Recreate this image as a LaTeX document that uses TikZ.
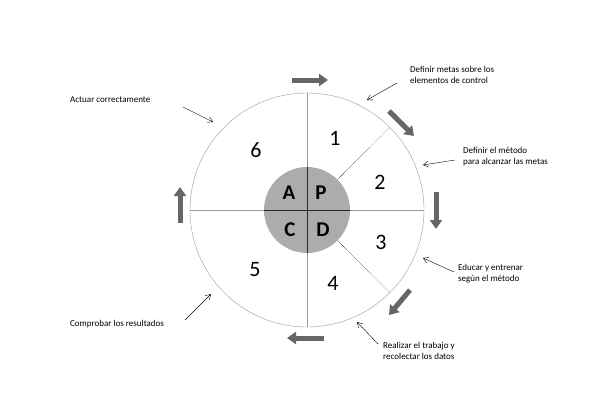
\documentclass[tikz,border=0pt]{standalone}
\usepackage{fontspec}
\setmainfont{Carlito}
\usetikzlibrary{arrows.meta}
\usetikzlibrary{calc}
\tikzset{
  cycle arrow/.style={line width=5pt,gray!80!black,-{Triangle[length=9pt,width=12pt]}},
  hint arrow/.style={thin,-{Straight Barb[length=5pt,width=6pt]}},
  hint/.style={font=\fontsize{9}{11}\selectfont,align=left,inner sep=0pt},
  step num/.style={font=\fontsize{22}{22}\selectfont},
  letter/.style={font=\fontsize{21}{21}\selectfont\bfseries}
}
\begin{document}
\begin{tikzpicture}[x=1pt,y=-1pt]
  \useasboundingbox (0,0) rectangle (610,416);
  \coordinate (O) at (307,210);
  \def\R{117}
  \def\r{43}

  % WHEEL
  \draw[gray!80] (O) circle[radius=\R];
  \draw[gray!80] ($(O)+(0,-\R)$) -- ($(O)+(0,\R)$);
  \draw[gray!80] ($(O)+(-\R,0)$) -- ($(O)+(\R,0)$);
  \draw[densely dotted] ($(O)+(-45:\r)$) -- ($(O)+(-45:\R)$);
  \draw[densely dotted] ($(O)+(45:\r)$) -- ($(O)+(45:\R)$);
  \fill[gray!65] (O) circle[radius=\r];
  \draw[gray!30!black,thin] ($(O)+(0,-\r)$) -- ($(O)+(0,\r)$);
  \draw[gray!30!black,thin] ($(O)+(-\r,0)$) -- ($(O)+(\r,0)$);

  % LETTERS
  \node[letter] (lA) at (289,193) {A};
  \node[letter] (lP) at (321,193) {P};
  \node[letter] (lC) at (290,230) {C};
  \node[letter] (lD) at (323,230) {D};

  % STEPS
  \node[step num] (s1) at (335,138) {1};
  \node[step num] (s2) at (380,182) {2};
  \node[step num] (s3) at (381,242) {3};
  \node[step num] (s4) at (333,283) {4};
  \node[step num] (s5) at (255,270) {5};
  \node[step num] (s6) at (256,150) {6};

  % CYCLE ARROWS
  \coordinate (a1) at (292,80);  \coordinate (b1) at (328,80);
  \coordinate (a2) at (389,111); \coordinate (b2) at (414,136);
  \coordinate (a3) at (436,192); \coordinate (b3) at (436,229);
  \coordinate (a4) at (410,290); \coordinate (b4) at (389,315);
  \coordinate (a5) at (324,338); \coordinate (b5) at (287,338);
  \coordinate (a6) at (180,223); \coordinate (b6) at (180,187);
  \foreach \i in {1,...,6}
    \draw[cycle arrow] (a\i) -- (b\i);

  % LABELS
  \node[hint,anchor=west] (t1) at (410,75) {Definir metas sobre los\\elementos de control};
  \node[hint,anchor=west] (t2) at (463,157) {Definir el método\\para alcanzar las metas};
  \node[hint,anchor=west] (t3) at (458,274) {Educar y entrenar\\según el método};
  \node[hint,anchor=west] (t4) at (383,351) {Realizar el trabajo y\\recolectar los datos};
  \node[hint,anchor=west] (t5) at (70,324) {Comprobar los resultados};
  \node[hint,anchor=west] (t6) at (70,100) {Actuar correctamente};
  \coordinate (e1) at (367,100);
  \coordinate (e2) at (423,165);
  \coordinate (e3) at (423,258);
  \coordinate (e4) at (357,322);
  \coordinate (e5) at (211,294);
  \coordinate (e6) at (213,122);
  \draw[hint arrow] (397,83) -- (e1);
  \draw[hint arrow] (455,160) -- (e2);
  \draw[hint arrow] (454,272) -- (e3);
  \draw[hint arrow] (378,344) -- (e4);
  \draw[hint arrow] (185,320) -- (e5);
  \draw[hint arrow] (183,107) -- (e6);
\end{tikzpicture}
\end{document}
